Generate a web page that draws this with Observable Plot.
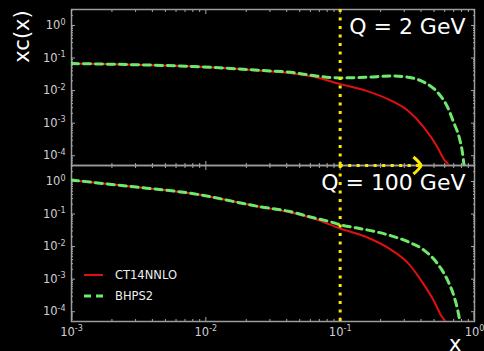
<!DOCTYPE html>
<html><head><meta charset="utf-8">
<script src="https://cdn.jsdelivr.net/npm/d3@7"></script>
<script src="https://cdn.jsdelivr.net/npm/@observablehq/plot@0.6"></script>
<style>
html,body{margin:0;padding:0;background:#000;}
#wrap{position:relative;width:484px;height:351px;overflow:hidden;background:#000;}
#legend{position:absolute;left:84px;top:265px;font-family:"DejaVu Sans";font-size:11.5px;color:#eee;}
#legend .row{display:flex;align-items:center;height:20.5px;}
#legend .row svg{margin-right:12px;display:block;}
</style></head><body><div id="wrap"><div id="legend"></div></div>
<script>
// ---- data ----
const panels = ["Q = 2 GeV", "Q = 100 GeV"];
const seriesNames = ["CT14NNLO", "BHPS2"];

// Q = 2 GeV
const q2ct14X = [0.001, 0.0026, 0.0081, 0.026, 0.043, 0.066, 0.10, 0.155, 0.24, 0.32, 0.42, 0.53, 0.59, 0.66, 0.71];
const q2ct14Y = [0.0676, 0.0631, 0.055, 0.0407, 0.0339, 0.0257, 0.0158, 0.0100, 0.0049, 0.0024, 0.00074, 0.000182, 0.0000794, 0.0000437, 0.00002];
const q2bhpsX = [0.001, 0.0026, 0.0081, 0.026, 0.043, 0.066, 0.10, 0.16, 0.24, 0.32, 0.42, 0.53, 0.63, 0.70, 0.77, 0.81, 0.84, 0.87];
const q2bhpsY = [0.0676, 0.0631, 0.055, 0.0417, 0.0363, 0.0282, 0.0245, 0.0257, 0.0282, 0.0257, 0.0182, 0.0089, 0.0031, 0.00105, 0.00036, 0.00014, 0.0000437, 0.000016];

// Q = 100 GeV
const q100ct14X = [0.001, 0.0026, 0.0081, 0.026, 0.043, 0.066, 0.10, 0.155, 0.24, 0.32, 0.42, 0.50, 0.56, 0.60, 0.63];
const q100ct14Y = [1.1, 0.72, 0.42, 0.164, 0.111, 0.069, 0.036, 0.020, 0.0079, 0.0031, 0.00068, 0.00021, 0.000081, 0.000051, 0.000025];
const q100bhpsX = [0.001, 0.0026, 0.0081, 0.026, 0.043, 0.060, 0.085, 0.10, 0.134, 0.178, 0.24, 0.32, 0.42, 0.53, 0.63, 0.70, 0.745, 0.774, 0.80];
const q100bhpsY = [1.1, 0.72, 0.42, 0.164, 0.117, 0.081, 0.0575, 0.047, 0.037, 0.0295, 0.0214, 0.0141, 0.0078, 0.003, 0.00093, 0.00032, 0.000126, 0.000056, 0.00002];

const xCut = 0.1;          // vertical dotted marker
const arrowEnd = 0.40;     // tip of horizontal dotted arrow
const majorX = [1e-3, 1e-2, 1e-1, 1];
const majorY = [1e-4, 1e-3, 1e-2, 1e-1, 1];
const yDomain = [Math.pow(10, -4.3), Math.pow(10, 0.49)];

// ---- build table ----
const rows = [];
function add(series, panel, xs, ys) { xs.forEach((x, i) => rows.push({series, panel, x, y: ys[i]})); }
add(seriesNames[0], panels[0], q2ct14X, q2ct14Y);
add(seriesNames[1], panels[0], q2bhpsX, q2bhpsY);
add(seriesNames[0], panels[1], q100ct14X, q100ct14Y);
add(seriesNames[1], panels[1], q100bhpsX, q100bhpsY);

const minorX = [], minorY = [];
[-3, -2, -1].forEach(e => { for (let k = 2; k <= 9; k++) minorX.push(k * Math.pow(10, e)); });
[-5, -4, -3, -2, -1, 0].forEach(e => { for (let k = 2; k <= 9; k++) { const v = k * Math.pow(10, e); if (v >= yDomain[0] && v <= yDomain[1]) minorY.push(v); } });

const supMap = {"-": "⁻", "0": "⁰", "1": "¹", "2": "²", "3": "³", "4": "⁴", "5": "⁵"};
const fmt = d => "10" + String(Math.round(Math.log10(d))).split("").map(c => supMap[c]).join("");

const RED = "#e01010", GREEN = "#6fe86f", YELLOW = "#ffe800", TICK = "#a8a8a8";

function inY(data, s) {
  return [
    Plot.axisY(data, {anchor: "left", tickSize: s, insetLeft: s, fill: "none", stroke: TICK, label: null, facetAnchor: null}),
    Plot.axisY(data, {anchor: "right", tickSize: s, insetRight: s, fill: "none", stroke: TICK, label: null, facetAnchor: null})
  ];
}
function inX(data, s) {
  return [
    Plot.axisX(data, {anchor: "bottom", tickSize: s, insetBottom: s, fill: "none", stroke: TICK, label: null, facetAnchor: null}),
    Plot.axisX(data, {anchor: "top", tickSize: s, insetTop: s, fill: "none", stroke: TICK, label: null, facetAnchor: null})
  ];
}

const chevron = {
  draw(ctx, size) {
    const r = Math.sqrt(size / Math.PI);
    ctx.moveTo(-r * 0.9, -r);
    ctx.quadraticCurveTo(-r * 0.2, -r * 0.45, 0, 0);
    ctx.quadraticCurveTo(-r * 0.2, r * 0.45, -r * 0.9, r);
  }
};

const chart = Plot.plot({
  width: 484, height: 351,
  marginTop: 9, marginBottom: 30, marginLeft: 71, marginRight: 10,
  x: {type: "log", domain: [1e-3, 1]},
  y: {type: "log", domain: yDomain},
  fy: {domain: panels, padding: 0, axis: null},
  style: {background: "#000", color: "#ccc", fontFamily: "DejaVu Sans", fontSize: "11px"},
  marks: [
    Plot.frame({stroke: "#9c9c9c", strokeWidth: 1.5}),
    ...inY(minorY, 2), ...inY(majorY, 4),
    ...inX(minorX, 2), ...inX(majorX, 4),
    Plot.axisY(majorY, {anchor: "left", tickSize: 0, tickPadding: 6, stroke: "none", fill: "#d0d0d0", tickFormat: fmt, label: null, facetAnchor: null}),
    Plot.axisX(majorX, {anchor: "bottom", tickSize: 0, tickPadding: 6, stroke: "none", fill: "#d0d0d0", tickFormat: fmt, label: null}),
    Plot.line(rows.filter(d => d.series === seriesNames[0]), {x: "x", y: "y", fy: "panel", stroke: RED, strokeWidth: 2, curve: "monotone-x", clip: true}),
    Plot.line(rows.filter(d => d.series === seriesNames[1]), {x: "x", y: "y", fy: "panel", stroke: GREEN, strokeWidth: 3, strokeDasharray: "7,5", curve: "monotone-x", clip: true}),
    Plot.ruleX([xCut], {stroke: YELLOW, strokeWidth: 3, strokeDasharray: "3,5.5"}),
    // horizontal dotted arrow drawn on the panel boundary (top edge of the lower panel)
    Plot.ruleY([{panel: panels[1]}], {y: () => yDomain[1], x1: () => xCut, x2: () => arrowEnd * 0.985, fy: "panel", stroke: YELLOW, strokeWidth: 3, strokeDasharray: "3,5.5"}),
    Plot.dot([{panel: panels[1]}], {x: () => arrowEnd, y: () => yDomain[1], fy: "panel", symbol: chevron, r: 8.5, stroke: YELLOW, fill: "none", strokeWidth: 3}),
    Plot.text(panels, {fy: d => d, text: d => d, frameAnchor: "top-right", textAnchor: "end", lineAnchor: "top", dx: -9, dy: 9, fontSize: 22, fill: "#fff"}),
    Plot.text([panels[0]], {fy: d => d, text: () => "xc(x)", frameAnchor: "top-left", rotate: -90, textAnchor: "middle", lineAnchor: "bottom", dx: -43, dy: 27, fontSize: 21, fill: "#fff"}),
    Plot.text([panels[1]], {fy: d => d, text: () => "x", frameAnchor: "bottom-right", textAnchor: "end", lineAnchor: "bottom", dx: -13, dy: 29, fontSize: 21, fill: "#fff"})
  ]
});

// render exponents as real superscript tspans
const unsup = {"⁻": "-", "⁰": "0", "¹": "1", "²": "2", "³": "3", "⁴": "4", "⁵": "5"};
chart.querySelectorAll("text").forEach(t => {
  const m = t.textContent.match(/^10([⁻⁰¹²³⁴⁵]+)$/);
  if (!m) return;
  const e = [...m[1]].map(c => unsup[c]).join("");
  t.textContent = "10";
  t.setAttribute("font-size", "11.5px");
  const ts = document.createElementNS("http://www.w3.org/2000/svg", "tspan");
  ts.setAttribute("dy", "-4.5");
  ts.setAttribute("font-size", "8px");
  ts.textContent = e;
  t.appendChild(ts);
});

document.getElementById("wrap").insertBefore(chart, document.getElementById("legend"));

// legend
const legend = document.getElementById("legend");
[[seriesNames[0], RED, null, 2], [seriesNames[1], GREEN, "7,5", 3]].forEach(([name, col, dash, w]) => {
  const row = document.createElement("div"); row.className = "row";
  row.innerHTML = `<svg width="19" height="6"><line x1="0" x2="19" y1="3" y2="3" stroke="${col}" stroke-width="${w}" ${dash ? `stroke-dasharray="${dash}"` : ""}/></svg><span>${name}</span>`;
  legend.appendChild(row);
});
</script>
</body></html>
